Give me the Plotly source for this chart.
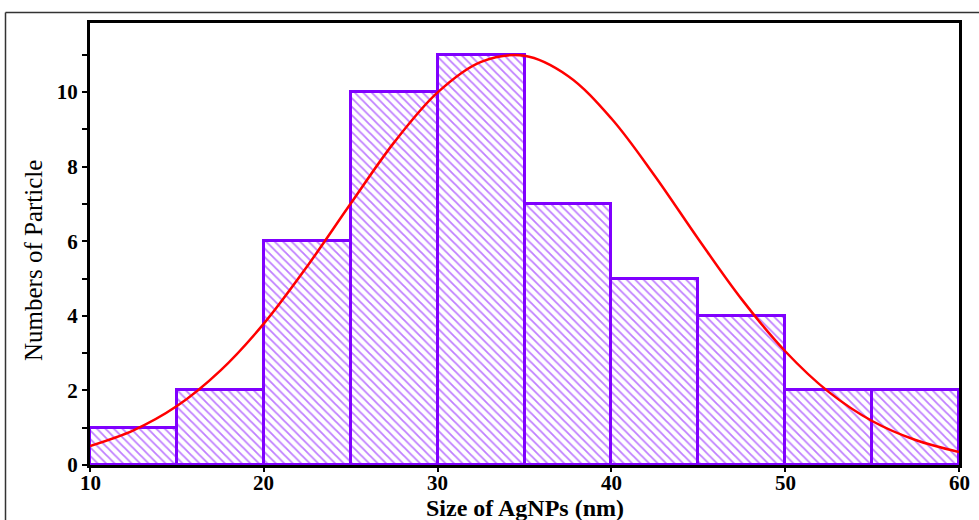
import plotly.graph_objects as go

# Histogram bins (nm) and counts
bin_left = [10, 15, 20, 25, 30, 35, 40, 45, 50, 55]
bin_width = 5
counts = [1, 2, 6, 10, 11, 7, 5, 4, 2, 2]

# Fitted distribution curve
fit_x = [10, 12.5, 15, 17.5, 20, 22.5, 25, 27.5, 30, 32.5, 35, 37.5, 40,
         42.5, 45, 47.5, 50, 52.5, 55, 57.5, 60]
fit_y = [0.51, 0.93, 1.58, 2.53, 3.79, 5.33, 7.01, 8.65, 9.99, 10.81, 10.97,
         10.43, 9.29, 7.75, 6.06, 4.44, 3.05, 1.96, 1.18, 0.67, 0.35]

x_ticks = [10, 20, 30, 40, 50, 60]
y_ticks = [0, 2, 4, 6, 8, 10]

violet = "#8000ff"
serif = "Liberation Serif, Times New Roman, serif"

fig = go.Figure()
fig.add_trace(go.Bar(
    x=[b + bin_width / 2 for b in bin_left],
    y=counts,
    width=[bin_width] * len(bin_left),
    marker=dict(
        color="white",
        line=dict(color=violet, width=3),
        pattern=dict(shape="\\", fgcolor=violet, bgcolor="white",
                     size=6, solidity=0.3, fillmode="overlay"),
    ),
    showlegend=False,
))
fig.add_trace(go.Scatter(
    x=fit_x, y=fit_y, mode="lines",
    line=dict(color="#ff0000", width=2.5, shape="spline"),
    showlegend=False,
))

# x tick labels placed on the x data scale, just below the axis
tick_annotations = [
    dict(text=f"<b>{v}</b>", xref="x", yref="paper", x=v, y=-(483 - 465) / 442,
         xanchor="center", yanchor="middle", showarrow=False, borderpad=0,
         font=dict(family=serif, size=21, color="black"))
    for v in x_ticks
]

fig.update_layout(
    width=979, height=520,
    margin=dict(l=90, r=20, t=23, b=55),
    paper_bgcolor="white", plot_bgcolor="white",
    bargap=0,
    font=dict(family=serif, color="black"),
    xaxis=dict(
        range=[10, 60], tickvals=x_ticks, showticklabels=False,
        showgrid=False, zeroline=False,
        showline=True, linecolor="black", linewidth=3, mirror=True,
        ticks="outside", ticklen=4, tickwidth=2, tickcolor="black",
    ),
    yaxis=dict(
        range=[0, 11.85], tickvals=y_ticks, ticktext=[f"<b>{v}</b>" for v in y_ticks],
        showgrid=False, zeroline=False,
        showline=True, linecolor="black", linewidth=3, mirror=True,
        ticks="outside", ticklen=5, tickwidth=2, tickcolor="black",
        minor=dict(dtick=1, ticks="outside", ticklen=5, tickwidth=2, tickcolor="black", showgrid=False),
        tickfont=dict(family=serif, size=21, color="black"),
    ),
    annotations=tick_annotations + [
        dict(text="<b>Size of AgNPs (nm)</b>", xref="paper", yref="paper",
             x=0.5, y=-(508 - 465) / 442, xanchor="center", yanchor="middle",
             showarrow=False, borderpad=0, font=dict(family=serif, size=24, color="black")),
        dict(text="Numbers of Particle", xref="paper", yref="paper",
             x=(33 - 90) / 869, y=(465 - 261) / 442, xanchor="center", yanchor="middle",
             textangle=-90, showarrow=False,
             font=dict(family=serif, size=25, color="black")),
    ],
    shapes=[
        dict(type="line", xref="paper", yref="paper",
             x0=(5.5 - 90) / 869, x1=(985 - 90) / 869,
             y0=(465 - 12.5) / 442, y1=(465 - 12.5) / 442,
             line=dict(color="#333333", width=1.5)),
        dict(type="line", xref="paper", yref="paper",
             x0=(5.5 - 90) / 869, x1=(5.5 - 90) / 869,
             y0=(465 - 12.5) / 442, y1=(465 - 530) / 442,
             line=dict(color="#333333", width=1.5)),
    ],
)

fig.write_html("out.html", config={"displayModeBar": False},
               post_script="document.body.style.margin='0';document.body.style.overflow='hidden';")
